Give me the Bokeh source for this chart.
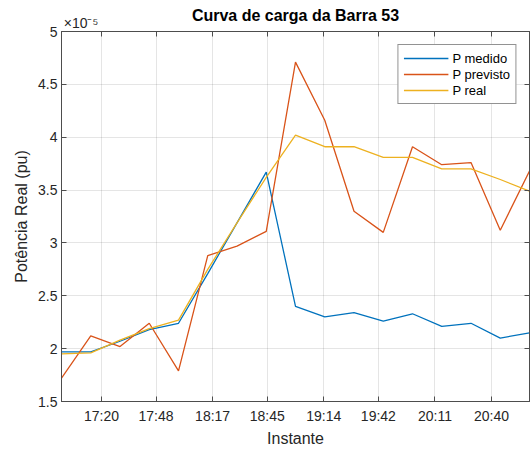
from bokeh.plotting import figure
from bokeh.models import (ColumnDataSource, FixedTicker, CustomJSTickFormatter,
                          LinearAxis, Range1d)
from bokeh.embed import file_html
from bokeh.resources import INLINE

# Load curve of bus 53, active power in pu (values scaled by 1e5)
instants = ["17:00", "17:15", "17:30", "17:45", "18:00", "18:15", "18:30", "18:45",
            "19:00", "19:15", "19:30", "19:45", "20:00", "20:15", "20:30", "20:45", "21:00"]
p_medido = [1.97, 1.97, 2.07, 2.18, 2.24, 2.71, 3.19, 3.67, 2.40,
            2.30, 2.34, 2.26, 2.33, 2.21, 2.24, 2.10, 2.15]
p_previsto = [1.72, 2.12, 2.02, 2.24, 1.79, 2.88, 2.97, 3.11, 4.71,
              4.16, 3.30, 3.10, 3.91, 3.74, 3.76, 3.12, 3.68]
p_real = [1.95, 1.96, 2.08, 2.19, 2.27, 2.75, 3.19, 3.62, 4.02,
          3.91, 3.91, 3.81, 3.81, 3.70, 3.70, 3.60, 3.49]

x_tick_labels = ["17:20", "17:48", "18:17", "18:45", "19:14", "19:42", "20:11", "20:40"]
y_ticks = [1.5, 2.0, 2.5, 3.0, 3.5, 4.0, 4.5, 5.0]
y_multiplier = "×10⁻⁵"
title_text = "Curva de carga da Barra 53"


def to_minutes(hhmm, origin="17:00"):
    h, m = map(int, hhmm.split(":"))
    oh, om = map(int, origin.split(":"))
    return (h * 60 + m) - (oh * 60 + om)


t = [to_minutes(s) for s in instants]
x_tick_pos = [to_minutes(s) + 0.5 for s in x_tick_labels]

src = ColumnDataSource(data=dict(t=t, medido=p_medido, previsto=p_previsto, real=p_real))

FONT = "Liberation Sans"
AX = "#4d4d4d"
TXT = "#262626"

p = figure(width=531, height=451, output_backend="svg", toolbar_location=None,
           x_range=Range1d(t[0], t[-1]), y_range=Range1d(y_ticks[0], y_ticks[-1]),
           min_border_left=61, min_border_right=2, min_border_top=31, min_border_bottom=50,
           background_fill_color="white", border_fill_color="white",
           outline_line_color=AX, outline_line_width=1)
p.title.visible = False

xfmt = CustomJSTickFormatter(args=dict(pos=x_tick_pos, lab=x_tick_labels),
                             code="const i = pos.indexOf(tick); return i >= 0 ? lab[i] : '';")
yfmt = CustomJSTickFormatter(code="return String(Math.round(tick * 10) / 10);")

xa = p.xaxis[0]
xa.ticker = FixedTicker(ticks=x_tick_pos)
xa.formatter = xfmt
xa.axis_label = "Instante"

ya = p.yaxis[0]
ya.ticker = FixedTicker(ticks=y_ticks)
ya.formatter = yfmt
ya.axis_label = "Potência Real (pu)"

for ax in (xa, ya):
    ax.axis_line_color = AX
    ax.major_tick_line_color = AX
    ax.major_tick_in = 5
    ax.major_tick_out = 0
    ax.minor_tick_line_color = None
    ax.major_label_text_font = FONT
    ax.major_label_text_font_size = "14px"
    ax.major_label_text_color = TXT
    ax.axis_label_text_font = FONT
    ax.axis_label_text_font_size = "16px"
    ax.axis_label_text_font_style = "normal"
    ax.axis_label_text_color = TXT
xa.major_label_standoff = 6
xa.axis_label_standoff = 3
ya.major_label_standoff = 4
ya.axis_label_standoff = 5

# Top edge: box tick marks (as minor ticks), the y multiplier near the left
# corner (as the single major label) and the chart title (as the axis label).
x_mult = 10
top = LinearAxis(ticker=FixedTicker(ticks=[x_mult], minor_ticks=x_tick_pos),
                 formatter=CustomJSTickFormatter(args=dict(txt=y_multiplier),
                                                 code="return txt;"),
                 axis_line_color=AX,
                 major_tick_line_color=None, major_tick_in=0, major_tick_out=0,
                 minor_tick_line_color=AX, minor_tick_in=5, minor_tick_out=0,
                 major_label_standoff=1,
                 major_label_text_font=FONT, major_label_text_font_size="14px",
                 major_label_text_color=TXT,
                 axis_label=title_text, axis_label_standoff=-12,
                 axis_label_text_font=FONT, axis_label_text_font_size="16px",
                 axis_label_text_font_style="bold", axis_label_text_color="#000000")
# Right edge: box tick marks only
right = LinearAxis(ticker=FixedTicker(ticks=[], minor_ticks=y_ticks),
                   axis_line_color=AX,
                   major_tick_line_color=None, major_tick_in=0, major_tick_out=0,
                   minor_tick_line_color=AX, minor_tick_in=5, minor_tick_out=0,
                   major_label_standoff=0)
p.add_layout(top, "above")
p.add_layout(right, "right")

p.xgrid.ticker = FixedTicker(ticks=x_tick_pos)
p.ygrid.ticker = FixedTicker(ticks=y_ticks)
for g in (p.xgrid, p.ygrid):
    g.grid_line_color = "#262626"
    g.grid_line_alpha = 0.12
    g.grid_line_width = 1

p.line("t", "medido", source=src, color="#0072BD", line_width=1.3, legend_label="P medido")
p.line("t", "previsto", source=src, color="#D95319", line_width=1.3, legend_label="P previsto")
p.line("t", "real", source=src, color="#EDB120", line_width=1.3, legend_label="P real")

lg = p.legend[0]
lg.location = "top_right"
lg.margin = 13
lg.padding = 5
lg.spacing = 0
lg.glyph_width = 45
lg.glyph_height = 16
lg.label_height = 16
lg.label_standoff = 4
lg.label_text_font = FONT
lg.label_text_font_size = "13px"
lg.label_text_color = "#000000"
lg.border_line_color = TXT
lg.border_line_width = 1
lg.background_fill_color = "white"
lg.background_fill_alpha = 1.0

open("out.html", "w").write(file_html(p, INLINE))
